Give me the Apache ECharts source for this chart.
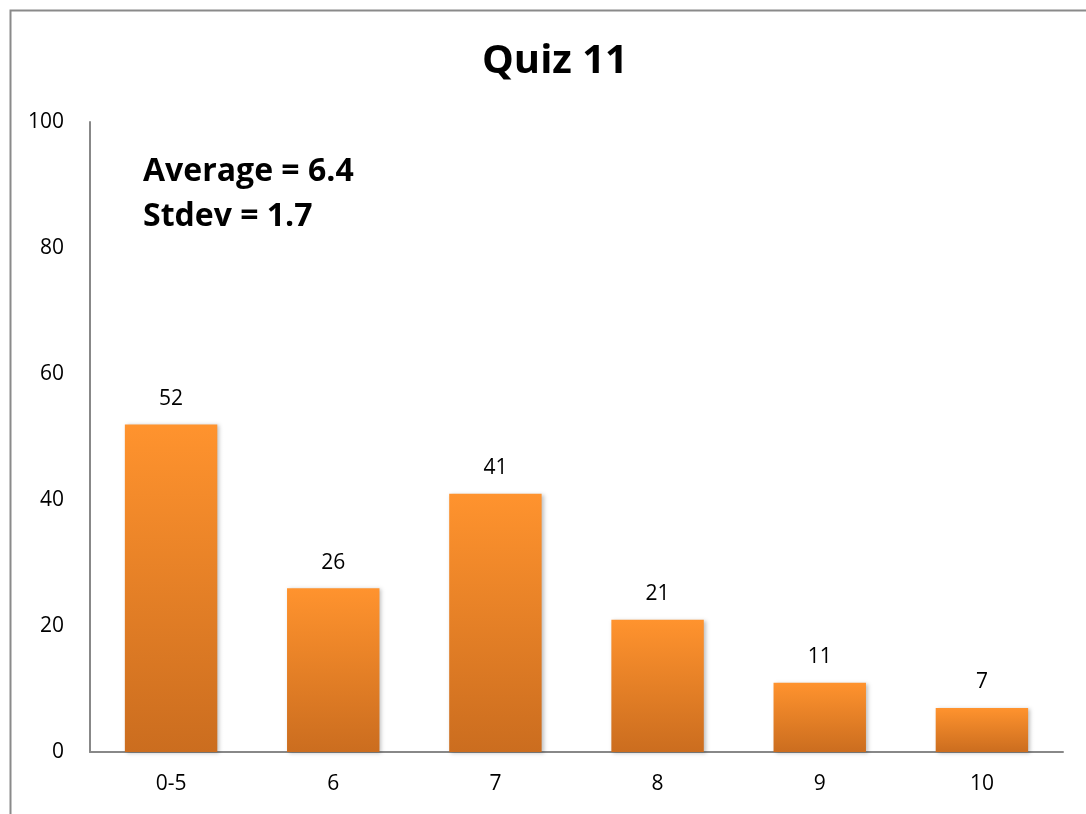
<!DOCTYPE html>
<html>
<head>
<meta charset="utf-8">
<script src="https://cdn.jsdelivr.net/npm/echarts@6/dist/echarts.min.js"></script>
<style>
html,body{margin:0;padding:0;background:#fff;}
#chart{width:1086px;height:814px;}
</style>
</head>
<body>
<div id="chart"></div>
<script>
const categories = ['0-5', '6', '7', '8', '9', '10'];
const counts = [52, 26, 41, 21, 11, 7];
const yTicks = [0, 20, 40, 60, 80, 100];
const titleText = 'Quiz 11';
const statsLines = ['Average = 6.4', 'Stdev = 1.7'];

const FONT = '"Open Sans", Lato, "Noto Sans", sans-serif';
const chart = echarts.init(document.getElementById('chart'));
chart.setOption({
  animation: false,
  backgroundColor: '#fff',
  title: {
    text: titleText,
    left: 550, top: 37, textAlign: 'center',
    textStyle: { fontFamily: FONT, fontSize: 40, fontWeight: 'bold', color: '#000' }
  },
  graphic: [
    { type: 'rect', left: 8, top: 8, shape: { width: 1200, height: 1000 },
      style: { fill: 'none', stroke: '#8a8a8a', lineWidth: 2 }, silent: true, z: 0 },
    { type: 'text', left: 143, top: 149,
      style: { text: statsLines.join('\n'), fontFamily: FONT, fontSize: 32, fontWeight: 'bold',
        fill: '#000', lineHeight: 45 }, z: 10 }
  ],
  grid: { left: 90, right: 23, top: 122, bottom: 62 },
  xAxis: {
    type: 'category',
    data: categories,
    axisLine: { lineStyle: { color: '#888', width: 2 } },
    axisTick: { show: false },
    axisLabel: { fontFamily: FONT, fontSize: 21, color: '#000', margin: 22 }
  },
  yAxis: {
    type: 'value',
    min: yTicks[0], max: yTicks[yTicks.length - 1], interval: yTicks[1] - yTicks[0],
    axisLine: { show: true, lineStyle: { color: '#888', width: 2 } },
    axisTick: { show: false },
    splitLine: { show: false },
    axisLabel: { fontFamily: FONT, fontSize: 21, color: '#000', margin: 26 }
  },
  series: [{
    type: 'bar',
    data: counts,
    barCategoryGap: '43%',
    itemStyle: {
      color: new echarts.graphic.LinearGradient(0, 0, 0, 1, [
        { offset: 0, color: '#FF932E' },
        { offset: 1, color: '#CB6D1F' }
      ]),
      shadowColor: 'rgba(0,0,0,0.25)', shadowBlur: 4, shadowOffsetX: 2, shadowOffsetY: 1
    },
    label: { show: true, position: 'top', distance: 15, fontFamily: FONT, fontSize: 21, color: '#000' }
  }]
});
</script>
</body>
</html>
